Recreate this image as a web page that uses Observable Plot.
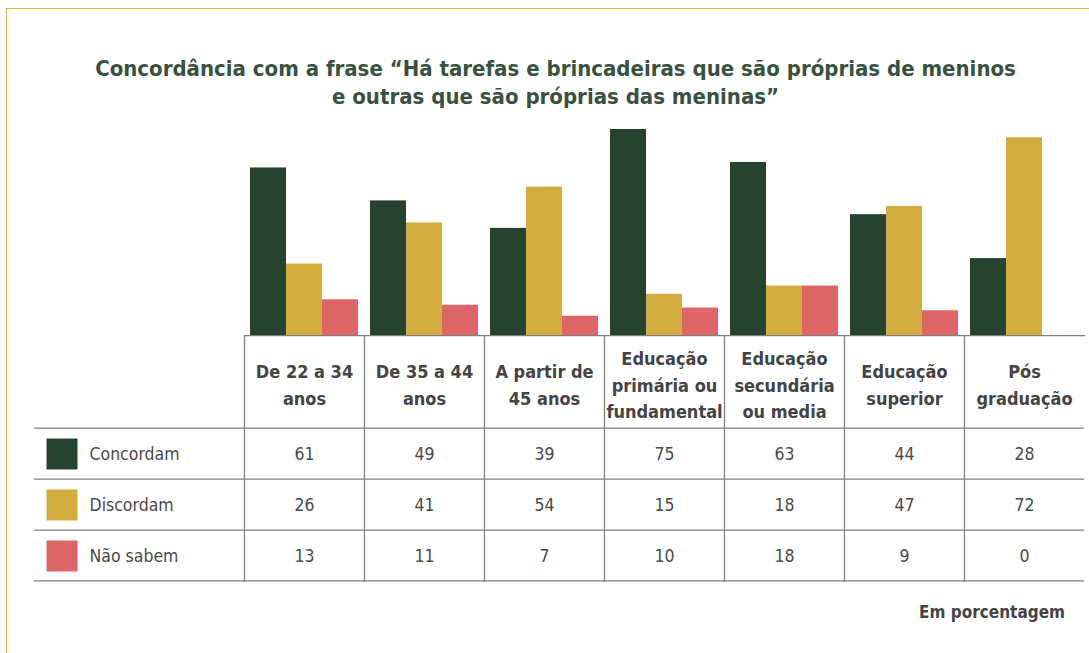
<!DOCTYPE html>
<html><head><meta charset="utf-8">
<script src="https://cdn.jsdelivr.net/npm/d3@7"></script>
<script src="https://cdn.jsdelivr.net/npm/@observablehq/plot@0.6"></script>
<style>
html,body{margin:0;padding:0;background:#fff;overflow:hidden;}
#page{position:relative;width:1089px;height:653px;overflow:hidden;font-family:"DejaVu Sans Condensed","DejaVu Sans",sans-serif;font-stretch:condensed;}
#frame{position:absolute;left:6px;top:8px;width:1200px;height:800px;border-top:1.5px solid #e0b64a;border-left:1.5px solid #e0b64a;}
#title{position:absolute;left:0;top:55px;width:1111px;text-align:center;font-weight:bold;font-size:22px;line-height:28px;color:#38523f;}
#chart{position:absolute;left:0;top:125px;}
#thead{position:absolute;left:0;top:335px;}
#tbody{position:absolute;left:0;top:427px;}
#unit{position:absolute;right:24px;top:601px;font-weight:bold;font-size:17px;line-height:22px;color:#444;}
svg{display:block}
</style></head>
<body>
<div id="page">
  <div id="frame"></div>
  <div id="title"></div>
  <div id="chart"></div>
  <div id="thead"></div>
  <div id="tbody"></div>
  <div id="unit"></div>
</div>
<script>
// ---- data ----
const categories = ["De 22 a 34 anos", "De 35 a 44 anos", "A partir de 45 anos", "Educação primária ou fundamental", "Educação secundária ou media", "Educação superior", "Pós graduação"];
const headerLabels = ["De 22 a 34\nanos", "De 35 a 44\nanos", "A partir de\n45 anos", "Educação\nprimária ou\nfundamental", "Educação\nsecundária\nou media", "Educação\nsuperior", "Pós\ngraduação"];
const series = ["Concordam", "Discordam", "Não sabem"];
const concordam = [61, 49, 39, 75, 63, 44, 28];
const discordam = [26, 41, 54, 15, 18, 47, 72];
const naoSabem  = [13, 11, 7, 10, 18, 9, 0];
const seriesColors = ["#26432f", "#d2ac3e", "#dd6568"];
const titleLines = ["Concordância com a frase “Há tarefas e brincadeiras que são próprias de meninos", "e outras que são próprias das meninas”"];
const unitNote = "Em porcentagem";

// ---- build ----
const valuesBySeries = [concordam, discordam, naoSabem];
const rows = series.flatMap((s, si) => categories.map((c, ci) => ({category: c, series: s, value: valuesBySeries[si][ci]})));

document.getElementById("title").innerHTML = titleLines.join("<br>");
document.getElementById("unit").textContent = unitNote;

const W = 1089, left = 244, right = 5;
const colW = (W - left - right) / categories.length;
const grid = "#7f7f7f", gw = 1.3;
const fontFamily = '"DejaVu Sans Condensed","DejaVu Sans",sans-serif';

const chart = Plot.plot({
  width: W, height: 210, marginTop: 4, marginBottom: 0, marginLeft: left, marginRight: right,
  fx: {domain: categories, paddingInner: 0.1, paddingOuter: 0.05, axis: null, label: null},
  x: {domain: series, padding: 0, axis: null},
  y: {axis: null},
  color: {domain: series, range: seriesColors},
  marks: [
    Plot.barY(rows, {fx: "category", x: "series", y: "value", fill: "series"})
  ]
});
document.getElementById("chart").append(chart);

const headH = 92;
const thead = Plot.plot({
  width: W, height: headH, marginTop: 0, marginBottom: 0, marginLeft: left, marginRight: right,
  x: {type: "band", domain: categories, padding: 0, axis: null},
  style: {fontFamily, fontSize: "18px", color: "#444", background: "transparent", fontStretch: "condensed"},
  marks: [
    Plot.frame({anchor: "top", stroke: grid, strokeWidth: gw}),
    Plot.ruleX(categories, {x: d => d, dx: -colW / 2, stroke: grid, strokeWidth: gw}),
    Plot.text(categories, {x: d => d, text: (d, i) => headerLabels[i], frameAnchor: "middle", dy: 1.5, lineHeight: 1.48, fontWeight: "bold", fontSize: 18, fill: "#444"})
  ]
});
document.getElementById("thead").append(thead);

const bodyH = 155, rowH = bodyH / series.length;
const tbody = Plot.plot({
  width: W, height: bodyH, marginTop: 0, marginBottom: 0, marginLeft: left, marginRight: right,
  x: {type: "band", domain: categories, padding: 0, axis: null},
  y: {type: "band", domain: series, padding: 0, axis: null},
  color: {domain: series, range: seriesColors},
  style: {fontFamily, fontSize: "17.5px", color: "#444", background: "transparent", fontStretch: "condensed"},
  marks: [
    Plot.ruleY(series, {y: d => d, dy: -rowH / 2, insetLeft: -(left - 34), stroke: grid, strokeWidth: gw}),
    Plot.ruleY(series.slice(-1), {y: d => d, dy: rowH / 2 - 1, insetLeft: -(left - 34), stroke: grid, strokeWidth: gw}),
    Plot.ruleX(categories, {x: d => d, dx: -colW / 2, stroke: grid, strokeWidth: gw}),
    Plot.dot(series, {y: d => d, frameAnchor: "left", dx: -(left - 61.5), symbol: "square", r: 31 / Math.sqrt(Math.PI), fill: d => d}),
    Plot.text(series, {y: d => d, text: d => d, frameAnchor: "left", dx: -(left - 89), textAnchor: "start", fontSize: 17.5, fill: "#4a4a4a"}),
    Plot.text(rows, {x: "category", y: "series", text: "value", fontSize: 17.5, fill: "#4a4a4a"})
  ]
});
document.getElementById("tbody").append(tbody);
</script>
</body></html>
